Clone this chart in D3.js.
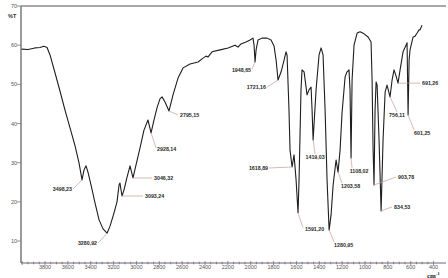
<!DOCTYPE html>
<html>
<head>
<meta charset="utf-8">
<script src="https://cdn.jsdelivr.net/npm/d3@7"></script>
<style>
  body { margin: 0; background: #fff; }
  svg { display: block; }
</style>
</head>
<body>
<div id="chart"></div>
<script>
// spectrum: wavenumber (cm-1) and transmittance (%T)
var wavenumber = [4005, 3949, 3888, 3844, 3809, 3782, 3756, 3712, 3669, 3625, 3581, 3537, 3502, 3476, 3459, 3441, 3424, 3397, 3362, 3327,
  3292, 3257, 3231, 3196, 3170, 3152, 3144, 3126, 3109, 3082, 3056, 3030, 3004, 2969, 2934, 2899, 2872, 2846, 2820, 2794,
  2776, 2750, 2715, 2680, 2636, 2592, 2531, 2461, 2417, 2391, 2373, 2338, 2268, 2198, 2137, 2111, 2085, 2041, 2006, 1980,
  1971, 1962, 1953, 1936, 1901, 1857, 1822, 1796, 1778, 1761, 1734, 1708, 1691, 1682, 1665, 1656, 1638, 1621, 1603, 1586,
  1577, 1560, 1551, 1533, 1507, 1490, 1472, 1463, 1454, 1428, 1402, 1384, 1367, 1349, 1332, 1314, 1297, 1279, 1253, 1236,
  1218, 1201, 1174, 1157, 1140, 1131, 1122, 1113, 1096, 1069, 1043, 1008, 973, 947, 938, 929, 921, 912, 903, 894,
  877, 859, 842, 824, 807, 781, 763, 746, 728, 711, 693, 667, 641, 632, 623, 614, 606, 579, 562, 544,
  527, 518, 501];
var transmittance = [59.0, 58.9, 59.3, 59.4, 59.7, 59.4, 57.5, 52.9, 48.3, 43.4, 38.9, 34.3, 29.9, 25.6, 28.1, 29.2, 27.6, 24.3, 19.7, 15.4,
  13.1, 12.0, 13.8, 17.2, 20.0, 24.3, 24.8, 21.5, 23.0, 26.3, 29.2, 26.1, 29.4, 33.7, 38.3, 40.9, 37.6, 40.9, 44.0, 46.3,
  46.8, 45.5, 43.2, 47.3, 51.6, 54.2, 55.2, 55.7, 56.7, 57.2, 57.0, 58.3, 58.8, 59.3, 60.0, 59.5, 60.3, 60.8, 61.3, 61.8,
  60.0, 55.7, 58.8, 61.3, 61.8, 61.8, 61.3, 59.8, 56.2, 51.1, 53.2, 56.2, 58.3, 57.5, 43.4, 33.2, 28.9, 32.0, 25.6, 17.2,
  25.6, 48.6, 53.7, 53.2, 47.3, 48.6, 49.3, 43.4, 35.8, 48.6, 57.5, 59.3, 57.5, 43.4, 25.6, 12.8, 16.6, 24.3, 30.7, 27.6,
  33.2, 42.7, 51.9, 53.2, 53.7, 48.6, 31.2, 51.1, 60.0, 63.1, 63.4, 62.9, 62.1, 60.8, 51.1, 33.2, 24.3, 43.4, 50.6, 49.8,
  35.8, 17.7, 35.8, 48.0, 49.8, 46.8, 51.1, 53.7, 52.1, 50.3, 53.7, 58.3, 60.0, 60.6, 42.2, 56.2, 58.8, 62.1, 62.3, 63.1,
  63.9, 63.9, 65.1];

// peak labels and the wavenumber of the point each one points to
var peakText = ["3498,23", "3280,92", "3093,24", "3046,32", "2928,14", "2795,15", "1948,65", "1721,16", "1618,89", "1591,20",
  "1419,03", "1280,95", "1203,58", "1108,02", "903,78", "834,53", "756,11", "691,26", "601,25"];
var peakAt = [3476, 3257, 3126, 3030, 2872, 2715, 1962, 1761, 1638, 1586,
  1454, 1314, 1236, 1122, 921, 859, 781, 711, 623];

var xTicks = [3800, 3600, 3400, 3200, 3000, 2800, 2600, 2400, 2200, 2000, 1800, 1600, 1400, 1200, 1000, 800, 600, 400];
var yTicks = [10, 20, 30, 40, 50, 60, 70];

// leader line end (dx, dy from the peak) and text offset from that end
var labelLayout = [
  [-9, 9, -1, 2, "end"], [-9, 10, -1, 2, "end"], [21, 0, 2, 2, "start"], [19, 0, 2, 2, "start"],
  [5, 15, 1, 3, "start"], [9, 4, 2, 2, "start"], [-3, 7, -1, 3, "end"], [-11, 7, -1, 2, "end"],
  [-23, 1, -1, 2, "end"], [5, 15, 2, 3, "start"], [2, 14, 0, 5, "middle"], [5, 12, 0, 5, "start"],
  [4, 11, -1, 5, "start"], [1, 10, 7, 5, "middle"], [22, -8, 2, 2, "start"], [11, -4, 2, 2, "start"],
  [7, 15, 0, 5, "middle"], [22, 0, 2, 2, "start"], [6, 15, 0, 5, "start"]
];

var width = 448, height = 278;

var svg = d3.select("#chart").append("svg")
  .attr("width", width)
  .attr("height", height);

var x = d3.scaleLinear().domain([4010, 300]).range([21, 445]);
var y = d3.scaleLinear().domain([4.39, 70]).range([263, 6]);

var points = wavenumber.map(function(w, i) { return {w: w, t: transmittance[i]}; });

// frame: top border and left axis
svg.append("line")
  .attr("x1", 21).attr("x2", 446)
  .attr("y1", y(70)).attr("y2", y(70))
  .attr("stroke", "#8a8a8a").attr("stroke-width", 1.5);

svg.append("line")
  .attr("x1", 21).attr("x2", 21)
  .attr("y1", y(70)).attr("y2", 263)
  .attr("stroke", "#7a7a7a").attr("stroke-width", 1.5);

// y ticks
yTicks.forEach(function(t) {
  svg.append("line")
    .attr("x1", 17).attr("x2", 21)
    .attr("y1", y(t)).attr("y2", y(t))
    .attr("stroke", "#777").attr("stroke-width", 0.8);
  svg.append("text")
    .attr("x", 17).attr("y", y(t) + 2)
    .attr("text-anchor", "end")
    .style("font", "5.5px 'Liberation Sans', Arial, sans-serif")
    .attr("fill", "#555")
    .text(t);
});

svg.append("text")
  .attr("x", 8).attr("y", 18)
  .style("font", "bold 5.5px 'Liberation Sans', Arial, sans-serif")
  .attr("fill", "#333")
  .text("%T");

// x axis with minor ticks every 50
svg.append("line")
  .attr("x1", 21).attr("x2", 446)
  .attr("y1", 263).attr("y2", 263)
  .attr("stroke", "#6e6275").attr("stroke-width", 1);

d3.range(400, 4001, 50).forEach(function(w) {
  var major = w % 200 == 0;
  svg.append("line")
    .attr("x1", x(w)).attr("x2", x(w))
    .attr("y1", 263 - (major ? 2 : 1.3)).attr("y2", 263 + (major ? 2 : 1.3))
    .attr("stroke", "#6e6275").attr("stroke-width", 0.7);
});

xTicks.forEach(function(w) {
  svg.append("text")
    .attr("x", x(w)).attr("y", 269)
    .attr("text-anchor", "middle")
    .style("font", "5.5px 'Liberation Sans', Arial, sans-serif")
    .attr("fill", "#555")
    .text(w);
});

var unit = svg.append("text")
  .attr("x", 427).attr("y", 277.5)
  .style("font", "bold 7px 'Liberation Serif', 'Times New Roman', serif")
  .attr("fill", "#222");
unit.append("tspan").text("cm");
unit.append("tspan").attr("dy", -3).style("font-size", "4.5px").text("-1");

// the spectrum
var line = d3.line()
  .x(function(d) { return x(d.w); })
  .y(function(d) { return y(d.t); });

svg.append("path")
  .datum(points)
  .attr("d", line)
  .attr("fill", "none")
  .attr("stroke", "#1e1e1e")
  .attr("stroke-width", 1.1)
  .attr("stroke-linejoin", "round");

// peak annotations
peakText.forEach(function(txt, i) {
  var idx = wavenumber.indexOf(peakAt[i]);
  var px = x(wavenumber[idx]), py = y(transmittance[idx]);
  var l = labelLayout[i];
  svg.append("line")
    .attr("x1", px).attr("y1", py)
    .attr("x2", px + l[0]).attr("y2", py + l[1])
    .attr("stroke", "#c99a9a").attr("stroke-width", 0.7);
  svg.append("text")
    .attr("x", px + l[0] + l[2]).attr("y", py + l[1] + l[3])
    .attr("text-anchor", l[4])
    .style("font", "bold 5.3px 'Liberation Sans', Arial, sans-serif")
    .attr("fill", "#2a2a2a")
    .text(txt);
});
</script>
</body>
</html>
